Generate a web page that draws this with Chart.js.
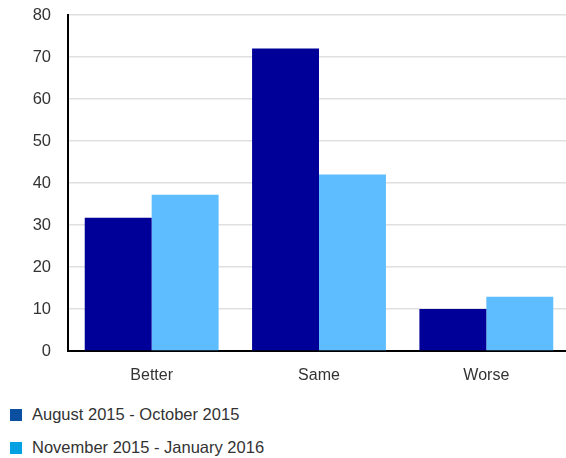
<!doctype html>
<html lang="en">
<head>
  <meta charset="utf-8">
  <title>Better / Same / Worse</title>
  <script src="https://cdn.jsdelivr.net/npm/chart.js@4"></script>
  <style>
    body { margin: 0; background: #fff; font-family: "Liberation Sans", Arial, sans-serif; }
    #wrap { position: relative; width: 566px; height: 458px; overflow: hidden; }
    #chartBox { position: absolute; left: 0; top: 0; width: 570px; height: 400px; }
    .key { position: absolute; left: 10px; font-size: 16.5px; color: #333; line-height: 16px; }
    .key span { display: inline-block; width: 12px; height: 12px; margin-right: 10px; vertical-align: -1px; }
  </style>
</head>
<body>
<div id="wrap">
  <div id="chartBox"><canvas id="myChart"></canvas></div>
  <div class="key" style="top:406px"><span style="background:#0b4fa0"></span>August 2015 - October 2015</div>
  <div class="key" style="top:439px"><span style="background:#00a0e2"></span>November 2015 - January 2016</div>
</div>
<script>
var categories = ["Better", "Same", "Worse"];
var augOct2015 = [31.7, 72, 10];
var novJan2016 = [37.2, 42, 12.9];
var seriesNames = ["August 2015 - October 2015", "November 2015 - January 2016"];

// plot area is pinned: y axis at x=68, top of scale at y=15, x axis at y=351
var ctx = document.getElementById("myChart").getContext("2d");
var chart = new Chart(ctx, {
  type: "bar",
  data: {
    labels: categories,
    datasets: [
      { label: seriesNames[0], data: augOct2015, backgroundColor: "#000099" },
      { label: seriesNames[1], data: novJan2016, backgroundColor: "#5ebdff" }
    ]
  },
  options: {
    responsive: true,
    maintainAspectRatio: false,
    animation: false,
    layout: { padding: { top: 15, right: 0, left: 0, bottom: 0 } },
    datasets: { bar: { categoryPercentage: 0.8, barPercentage: 1 } },
    plugins: { legend: { display: false }, tooltip: { enabled: false } },
    scales: {
      x: {
        grid: { display: false, drawTicks: false },
        border: { color: "#000", width: 2 },
        ticks: { color: "#333", padding: 15, font: { family: "Liberation Sans", size: 16 } },
        afterFit: function (s) { s.height = 49; s.paddingLeft = 0; s.paddingRight = 0; }
      },
      y: {
        min: 0,
        max: 80,
        grid: { color: "#e0e0e0", lineWidth: 1.5, drawTicks: false },
        border: { color: "#000", width: 2 },
        ticks: { stepSize: 10, color: "#333", padding: 17, font: { family: "Liberation Sans", size: 16.5 } },
        afterFit: function (s) { s.width = 68; s.paddingTop = 0; s.paddingBottom = 0; }
      }
    }
  }
});
</script>
</body>
</html>
